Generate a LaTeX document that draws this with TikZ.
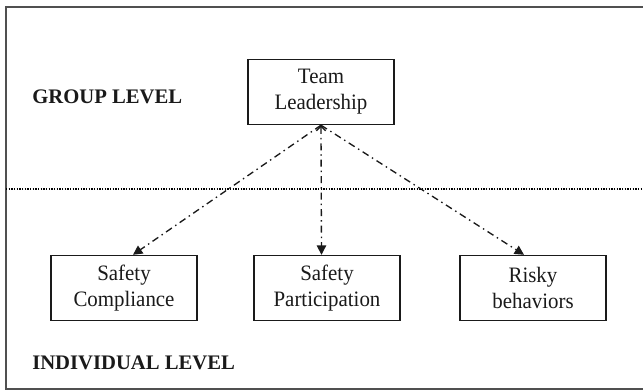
\documentclass[tikz,border=0pt]{standalone}
\usepackage{fontspec}
\setmainfont{Liberation Serif}
\newfontfamily\boxfont[FakeStretch=0.95]{Liberation Serif}
\usetikzlibrary{arrows.meta,calc}
\definecolor{framegray}{HTML}{505050}
\definecolor{txt}{HTML}{1A1A1A}
\tikzset{
  boxnode/.style={draw=txt, line width=0.8pt, minimum width=109.5pt, minimum height=49pt,
    inner sep=0pt, align=center, text=txt, font=\boxfont\fontsize{16.5pt}{19.3pt}\selectfont},
  levellabel/.style={anchor=west, inner sep=0pt, text=txt, font=\fontsize{15.5pt}{18pt}\selectfont\bfseries},
  dashdotline/.style={line width=1pt, txt, dash pattern=on 5.25pt off 3pt on 1.1pt off 3pt},
  endtip/.style={-{Triangle[length=7pt,width=7pt]}},
  bothtips/.style={{Straight Barb[length=3.5pt,width=7pt]}-{Triangle[length=7pt,width=7pt]}}
}
\begin{document}
\begin{tikzpicture}[x=0.75pt,y=-0.75pt]
\useasboundingbox (0,0) rectangle (643,391);
\clip (0,0) rectangle (643,391);
\fill[white] (0,0) rectangle (643,391);
\draw[framegray, line width=1.6pt] (6,7) rectangle (660,389);
\coordinate (divL) at (6,189);
\coordinate (divR) at (643,189);
\draw[black, line width=0.8pt, dash pattern=on 1pt off 1pt] (divL) -- (divR);

\node[boxnode] (TL) at (321,92) {Team\\Leadership};
\node[boxnode] (SC) at (124,288) {Safety\\Compliance};
\node[boxnode] (SP) at (327,288) {Safety\\Participation};
\node[boxnode] (RB) at (533,288) {Risky\\behaviors};

\node[levellabel] (GL) at (32,97) {GROUP LEVEL};
\node[levellabel] (IL) at (32,363) {INDIVIDUAL LEVEL};

\draw[dashdotline, endtip] (TL.south) -- ($(SC.north)+(9,0)$);
\draw[dashdotline, bothtips] (TL.south) -- ($(SP.north)+(-5.5,0)$);
\draw[dashdotline, endtip] (TL.south) -- ($(RB.north)+(-9,0)$);
\end{tikzpicture}
\end{document}
